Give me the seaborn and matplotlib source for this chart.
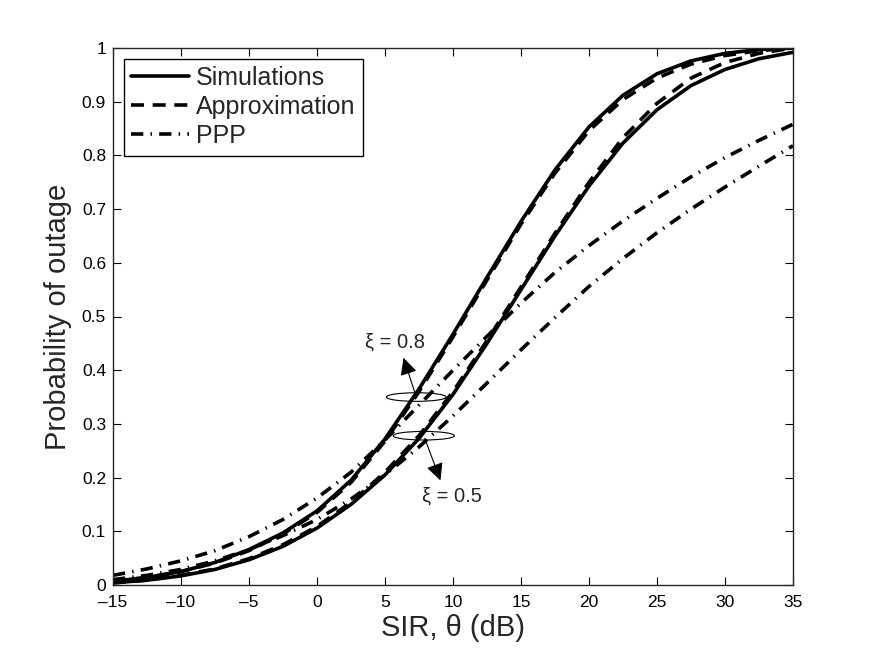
import matplotlib
matplotlib.use("Agg")
import matplotlib.pyplot as plt
from matplotlib.patches import Ellipse
import numpy as np
import pandas as pd
import seaborn as sns

# SIR threshold (dB)
theta = [-15, -12.5, -10, -7.5, -5, -2.5, 0, 2.5, 5, 7.5, 10, 12.5, 15,
         17.5, 20, 22.5, 25, 27.5, 30, 32.5, 35]

# xi = 0.8
sim_08 = [0.007, 0.014, 0.025, 0.042, 0.066, 0.097, 0.138, 0.195, 0.272, 0.365, 0.467,
          0.573, 0.677, 0.773, 0.853, 0.912, 0.952, 0.976, 0.99, 0.997, 1.0]
app_08 = [0.007, 0.014, 0.025, 0.041, 0.064, 0.095, 0.135, 0.191, 0.268, 0.36, 0.462,
          0.568, 0.672, 0.767, 0.846, 0.904, 0.944, 0.97, 0.986, 0.995, 1.0]
ppp_08 = [0.018, 0.03, 0.045, 0.064, 0.09, 0.122, 0.162, 0.21, 0.27, 0.335, 0.40,
          0.463, 0.525, 0.582, 0.632, 0.678, 0.72, 0.76, 0.796, 0.828, 0.858]

# xi = 0.5
sim_05 = [0.004, 0.009, 0.017, 0.029, 0.047, 0.072, 0.106, 0.15, 0.205, 0.273, 0.355,
          0.45, 0.55, 0.65, 0.743, 0.823, 0.885, 0.93, 0.96, 0.98, 0.992]
app_05 = [0.004, 0.009, 0.018, 0.03, 0.049, 0.075, 0.109, 0.154, 0.21, 0.278, 0.36,
          0.455, 0.555, 0.655, 0.75, 0.833, 0.897, 0.944, 0.973, 0.99, 1.0]
ppp_05 = [0.01, 0.018, 0.029, 0.045, 0.066, 0.092, 0.122, 0.16, 0.205, 0.257, 0.315,
          0.376, 0.438, 0.498, 0.556, 0.608, 0.656, 0.70, 0.741, 0.78, 0.818]

xticks = [-15, -10, -5, 0, 5, 10, 15, 20, 25, 30, 35]
xticklabels = ['\u201315', '\u201310', '\u20135', '0', '5', '10', '15', '20', '25', '30', '35']
yticks = [0, 0.1, 0.2, 0.3, 0.4, 0.5, 0.6, 0.7, 0.8, 0.9, 1]
yticklabels = ['0', '0.1', '0.2', '0.3', '0.4', '0.5', '0.6', '0.7', '0.8', '0.9', '1']

sns.set_style("ticks")
plt.rcParams['font.family'] = ['Liberation Sans', 'DejaVu Sans']
plt.rcParams['xtick.direction'] = 'in'
plt.rcParams['ytick.direction'] = 'in'
plt.rcParams['xtick.top'] = True
plt.rcParams['ytick.right'] = True
plt.rcParams['axes.linewidth'] = 1.0
plt.rcParams['lines.solid_joinstyle'] = 'round'

fig = plt.figure(figsize=(8.75, 6.59), dpi=100)
ax = fig.add_axes([113 / 875, 74 / 659, 680 / 875, 537 / 659])

lw = 2.6
dash = (0, (3.6, 2.4))
dashdot = (0, (3.4, 2.0, 0.4, 2.0))

styles = [('Simulations', '-'), ('Approximation', dash), ('PPP', dashdot)]
sets = [(sim_08, app_08, ppp_08), (sim_05, app_05, ppp_05)]
for k, curves in enumerate(sets):
    for (name, ls), vals in zip(styles, curves):
        df = pd.DataFrame({'theta': theta, 'p': vals})
        sns.lineplot(data=df, x='theta', y='p', ax=ax, color='black', lw=lw,
                     linestyle=ls, label=name if k == 0 else None)

ax.set_xlim(-15, 35)
ax.set_ylim(0, 1)
ax.set_xticks(xticks)
ax.set_xticklabels(xticklabels)
ax.set_yticks(yticks)
ax.set_yticklabels(yticklabels)
ax.tick_params(labelsize=12.5, length=6, width=0.8, pad=5, colors='black')
ax.tick_params(axis='x', pad=7)
ax.set_xlabel('SIR, \u03b8 (dB)', fontsize=21, labelpad=3)
ax.set_ylabel('Probability of outage', fontsize=21, labelpad=7)

leg = ax.legend(loc='upper left', fontsize=18, frameon=True, fancybox=False,
                edgecolor='black', handlelength=2.3, handletextpad=0.3,
                labelspacing=0.2, borderaxespad=0.42, borderpad=0.3)
leg.get_frame().set_linewidth(1.0)
leg.get_frame().set_alpha(1)

# xi annotations
ax.add_patch(Ellipse((7.3, 0.35), 4.4, 0.016, fill=False, lw=0.8, color='black'))
ax.add_patch(Ellipse((7.85, 0.278), 4.5, 0.016, fill=False, lw=0.8, color='black'))
ax.annotate('', xy=(6.3, 0.428), xytext=(7.3, 0.35),
            arrowprops=dict(arrowstyle='-|>', color='black', lw=0.8, mutation_scale=26))
ax.annotate('', xy=(9.15, 0.19), xytext=(7.85, 0.278),
            arrowprops=dict(arrowstyle='-|>', color='black', lw=0.8, mutation_scale=26))
ax.text(5.7, 0.452, '\u03be = 0.8', fontsize=14.5, ha='center', va='center')
ax.text(9.9, 0.166, '\u03be = 0.5', fontsize=14.5, ha='center', va='center')

fig.savefig('out.png', dpi=100, facecolor='white')
